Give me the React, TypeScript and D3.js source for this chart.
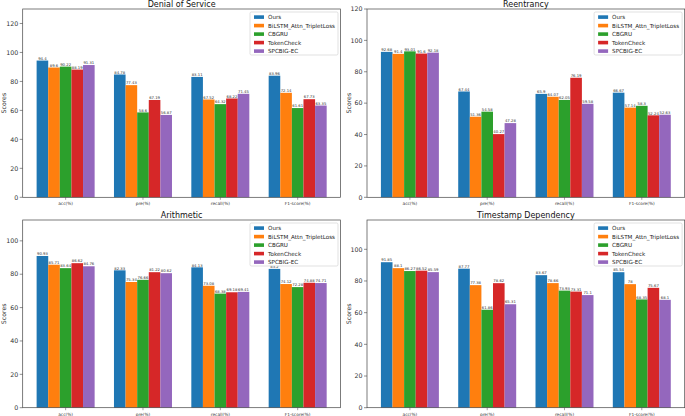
import React from "react";
import * as d3 from "d3";

const categories = ["acc(%)", "pre(%)", "recall(%)", "F1-score(%)"];
const models = ["Ours", "BiLSTM_Attn_TripletLoss", "CBGRU", "TokenCheck", "SPCBIG-EC"];
const colors = ["#1f77b4", "#ff7f0e", "#2ca02c", "#d62728", "#9467bd"];

// Denial of Service (per model: acc, pre, recall, F1)
const dosOurs = [94.4, 84.78, 83.11, 83.96];
const dosBilstm = [89.6, 77.43, 67.52, 72.14];
const dosCbgru = [90.22, 58.6, 64.32, 61.61];
const dosToken = [88.19, 67.19, 68.22, 67.73];
const dosSpcbig = [91.31, 56.87, 71.45, 63.35];

// Reentrancy
const reOurs = [92.68, 67.44, 65.9, 66.67];
const reBilstm = [91.4, 51.36, 64.07, 57.14];
const reCbgru = [93.01, 54.58, 62.05, 58.3];
const reToken = [91.6, 40.27, 76.19, 52.24];
const reSpcbig = [92.18, 47.28, 59.58, 52.63];

// Arithmetic
const arOurs = [90.93, 82.33, 84.13, 83.2];
const arBilstm = [85.71, 75.34, 73.08, 74.12];
const arCbgru = [83.64, 76.66, 68.38, 72.28];
const arToken = [86.62, 81.22, 69.18, 74.88];
const arSpcbig = [84.76, 80.62, 69.41, 74.71];

// Timestamp Dependency
const tsOurs = [91.85, 87.77, 83.67, 85.54];
const tsBilstm = [88.1, 77.38, 78.66, 78.0];
const tsCbgru = [86.27, 61.86, 73.93, 68.35];
const tsToken = [86.52, 78.62, 73.31, 75.67];
const tsSpcbig = [85.59, 65.31, 71.1, 68.1];

const yTicks = [0, 20, 40, 60, 80, 100, 120];

const panels = [
  { title: "Denial of Service", series: [dosOurs, dosBilstm, dosCbgru, dosToken, dosSpcbig], ymax: 130, x0: 22.7, x1: 340.6, y0: 9, y1: 197.3 },
  { title: "Reentrancy", series: [reOurs, reBilstm, reCbgru, reToken, reSpcbig], ymax: 120, x0: 367, x1: 684.7, y0: 9, y1: 197.3 },
  { title: "Arithmetic", series: [arOurs, arBilstm, arCbgru, arToken, arSpcbig], ymax: 112.5, x0: 22.7, x1: 340.6, y0: 220, y1: 407.7 },
  { title: "Timestamp Dependency", series: [tsOurs, tsBilstm, tsCbgru, tsToken, tsSpcbig], ymax: 118.5, x0: 367, x1: 684.7, y0: 220, y1: 407.7 },
];

const FONT = "DejaVu Sans, sans-serif";
const BW = 0.15;

function Panel({ p }: { p: any }) {
  const x = d3.scaleLinear().domain([-0.555, 3.555]).range([p.x0, p.x1]);
  const y = d3.scaleLinear().domain([0, p.ymax]).range([p.y1, p.y0]);
  const bw = x(BW) - x(0);
  const ticks = yTicks.filter((t) => t <= p.ymax);
  const legW = 88;
  const legX = p.x1 - 2.6 - legW;
  const legY = p.y0 + 3;
  return (
    <g>
      {p.series.map((vals: number[], i: number) =>
        vals.map((v, g) => {
          const cx = x(g + (i - 2) * BW);
          return (
            <g key={`${i}-${g}`}>
              <rect x={cx - bw / 2} y={y(v)} width={bw} height={y(0) - y(v)} fill={colors[i]} />
              <text x={cx} y={y(v) - 0.8} fontSize={3.8} textAnchor="middle" fill="#333" fontFamily={FONT}>
                {v}
              </text>
            </g>
          );
        })
      )}
      <rect x={p.x0} y={p.y0} width={p.x1 - p.x0} height={p.y1 - p.y0} fill="none" stroke="#444" strokeWidth={0.7} />
      {ticks.map((t) => (
        <g key={t}>
          <line x1={p.x0 - 3} x2={p.x0} y1={y(t)} y2={y(t)} stroke="#444" strokeWidth={0.6} />
          <text x={p.x0 - 4.5} y={y(t) + 2.2} fontSize={6.3} textAnchor="end" fill="#333" fontFamily={FONT}>
            {t}
          </text>
        </g>
      ))}
      {categories.map((c, g) => (
        <g key={c}>
          <line x1={x(g)} x2={x(g)} y1={p.y1} y2={p.y1 + 2.5} stroke="#444" strokeWidth={0.5} />
          <text x={x(g)} y={p.y1 + 7.8} fontSize={4.3} textAnchor="middle" fill="#333" fontFamily={FONT}>
            {c}
          </text>
        </g>
      ))}
      <text
        transform={`translate(${p.x0 - 16.5},${(p.y0 + p.y1) / 2}) rotate(-90)`}
        fontSize={6.2}
        textAnchor="middle"
        fill="#333"
        fontFamily={FONT}
      >
        Scores
      </text>
      <text x={(p.x0 + p.x1) / 2} y={p.y0 - 2.2} fontSize={8} textAnchor="middle" fill="#111" fontFamily={FONT}>
        {p.title}
      </text>
      <g>
        <rect x={legX} y={legY} width={legW} height={43} rx={1.5} fill="white" fillOpacity={0.85} stroke="#ccc" strokeWidth={0.6} />
        {models.map((m, i) => (
          <g key={m}>
            <rect x={legX + 4} y={legY + 3.3 + i * 8.5} width={10} height={3.6} fill={colors[i]} />
            <text x={legX + 18} y={legY + 7.2 + i * 8.5} fontSize={5.6} fill="#222" fontFamily={FONT}>
              {m}
            </text>
          </g>
        ))}
      </g>
    </g>
  );
}

export default function App() {
  return (
    <svg
      width={685}
      height={416}
      style={{ position: "absolute", left: 0, top: 0, background: "white" }}
    >
      <rect x={0} y={0} width={685} height={416} fill="white" />
      {panels.map((p) => (
        <Panel key={p.title} p={p} />
      ))}
    </svg>
  );
}
